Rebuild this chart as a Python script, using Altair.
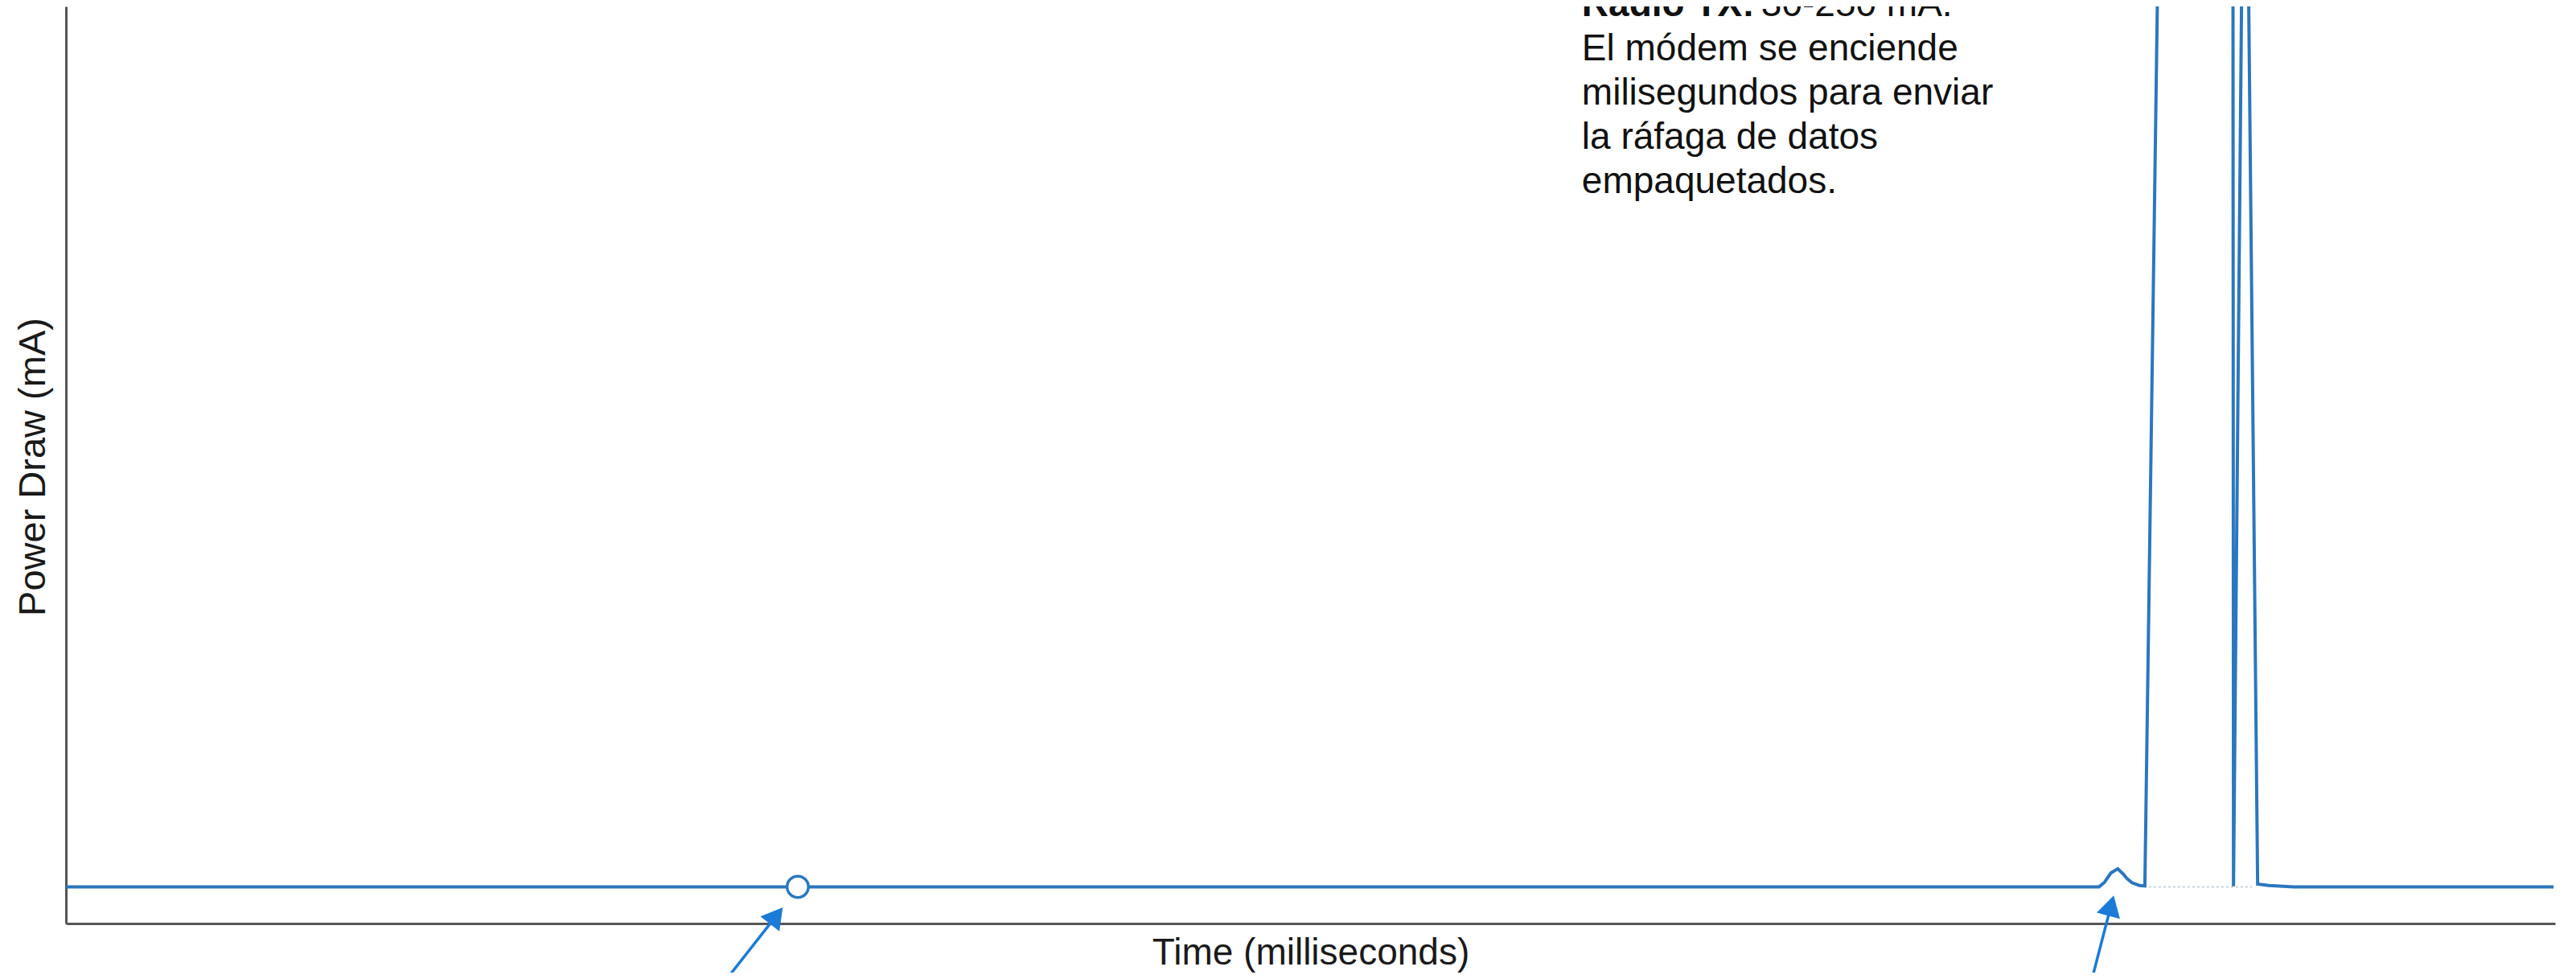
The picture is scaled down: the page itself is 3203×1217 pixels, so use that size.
import altair as alt
import pandas as pd

# ---- data (time in ms, current in mA) ----
time_ms = [0.0, 294.0, 816.8, 819.0, 821.5, 824.3, 826.5, 828.0, 830.0, 833.0, 835.2,
           848.0, 870.3, 870.8, 875.4, 880.5, 885.0, 895.0, 999.4]
power_ma = [4.0, 4.0, 4.0, 4.5, 5.5, 5.96, 5.4, 4.9, 4.45, 4.15, 4.1,
            250.0, 250.0, 4.05, 141.0, 4.3, 4.15, 4.0, 4.0]

marker_t = [294.0]
marker_ma = [4.0]

arrow_tail_t = [265.3, 813.9]
arrow_tail_ma = [-6.1, -6.1]
arrow_head_t = [285.4, 821.6]
arrow_head_ma = [0.85, 1.95]
arrow_angle = [38, 15]

gap_t = [836.8]
gap_t2 = [878.2]
gap_ma = [4.0]

note_t = [609.0]
note_ma_first = [98.95]
note_ma_rest = [94.12]
note_bold = "Radio TX:"
note_rest = "30-250 mA."
note_lines = ["El módem se enciende", "milisegundos para enviar",
              "la ráfaga de datos", "empaquetados."]

FONT = "Liberation Sans"
LINE = "#2b77bf"
ARROW = "#1b7bd6"

trace = pd.DataFrame({"t": time_ms, "ma": power_ma})
marker = pd.DataFrame({"t": marker_t, "ma": marker_ma})
arrows = pd.DataFrame({"t": arrow_tail_t, "ma": arrow_tail_ma,
                       "t2": arrow_head_t, "ma2": arrow_head_ma,
                       "angle": arrow_angle})
gap = pd.DataFrame({"t": gap_t, "t2": gap_t2, "ma": gap_ma})
note1 = pd.DataFrame({"t": note_t, "ma": note_ma_first})
note2 = pd.DataFrame({"t": note_t, "ma": note_ma_rest})

xs = alt.Scale(domain=[0, 1000], nice=False, zero=False)
ys = alt.Scale(domain=[0, 100], nice=False, zero=False)

xax = alt.Axis(title="Time (milliseconds)", ticks=False, labels=False, grid=False,
               domainColor="#555555", domainWidth=3,
               titleFont=FONT, titleFontSize=46, titleFontWeight="normal",
               titleColor="#1a1a1a", titleY=50, titleBaseline="alphabetic")
yax = alt.Axis(title="Power Draw (mA)", ticks=False, labels=False, grid=False,
               domainColor="#555555", domainWidth=3,
               titleFont=FONT, titleFontSize=47, titleFontWeight="normal",
               titleColor="#1a1a1a", titleX=-27, titleY=572, titleAngle=270,
               titleBaseline="alphabetic", titleAlign="center")

gap_rule = alt.Chart(gap).mark_rule(color="#c9d3de", strokeWidth=2, strokeDash=[3, 3]).encode(
    x=alt.X("t:Q", scale=xs, axis=xax), x2="t2:Q",
    y=alt.Y("ma:Q", scale=ys, axis=yax))

line = alt.Chart(trace).mark_line(color=LINE, strokeWidth=4, clip=True).encode(
    x=alt.X("t:Q", scale=xs), y=alt.Y("ma:Q", scale=ys), order="t:Q")

circ = alt.Chart(marker).mark_point(shape="circle", filled=True, fill="white",
                                    stroke=LINE, strokeWidth=3.5, size=700, opacity=1).encode(
    x=alt.X("t:Q", scale=xs), y=alt.Y("ma:Q", scale=ys))

shafts = alt.Chart(arrows).mark_rule(color=ARROW, strokeWidth=3.5).encode(
    x=alt.X("t:Q", scale=xs), y=alt.Y("ma:Q", scale=ys), x2="t2:Q", y2="ma2:Q")

heads = alt.Chart(arrows).mark_point(shape="triangle-up", filled=True, color=ARROW,
                                     size=900, opacity=1).encode(
    x=alt.X("t2:Q", scale=xs), y=alt.Y("ma2:Q", scale=ys),
    angle=alt.Angle("angle:Q", scale=None))

bold_txt = alt.Chart(note1).mark_text(text=note_bold, font=FONT, fontSize=46,
                                      fontWeight="bold", color="#111111",
                                      align="left", baseline="alphabetic").encode(
    x=alt.X("t:Q", scale=xs), y=alt.Y("ma:Q", scale=ys))

rest_txt = alt.Chart(note1).mark_text(text=note_rest, font=FONT, fontSize=46,
                                      color="#111111", align="left",
                                      baseline="alphabetic", dx=223).encode(
    x=alt.X("t:Q", scale=xs), y=alt.Y("ma:Q", scale=ys))

body_txt = alt.Chart(note2).mark_text(text=note_lines, font=FONT, fontSize=46,
                                      lineHeight=55, color="#111111", align="left",
                                      baseline="alphabetic").encode(
    x=alt.X("t:Q", scale=xs), y=alt.Y("ma:Q", scale=ys))

chart = alt.layer(gap_rule, line, circ, shafts, heads, bold_txt, rest_txt, body_txt).properties(
    width=3095, height=1140,
    autosize=alt.AutoSizeParams(type="none"),
    padding={"left": 74, "top": 0, "right": 16, "bottom": 61},
    background="white",
).configure_view(stroke=None)

chart.save("out.html", embed_options={"renderer": "svg", "actions": False})
